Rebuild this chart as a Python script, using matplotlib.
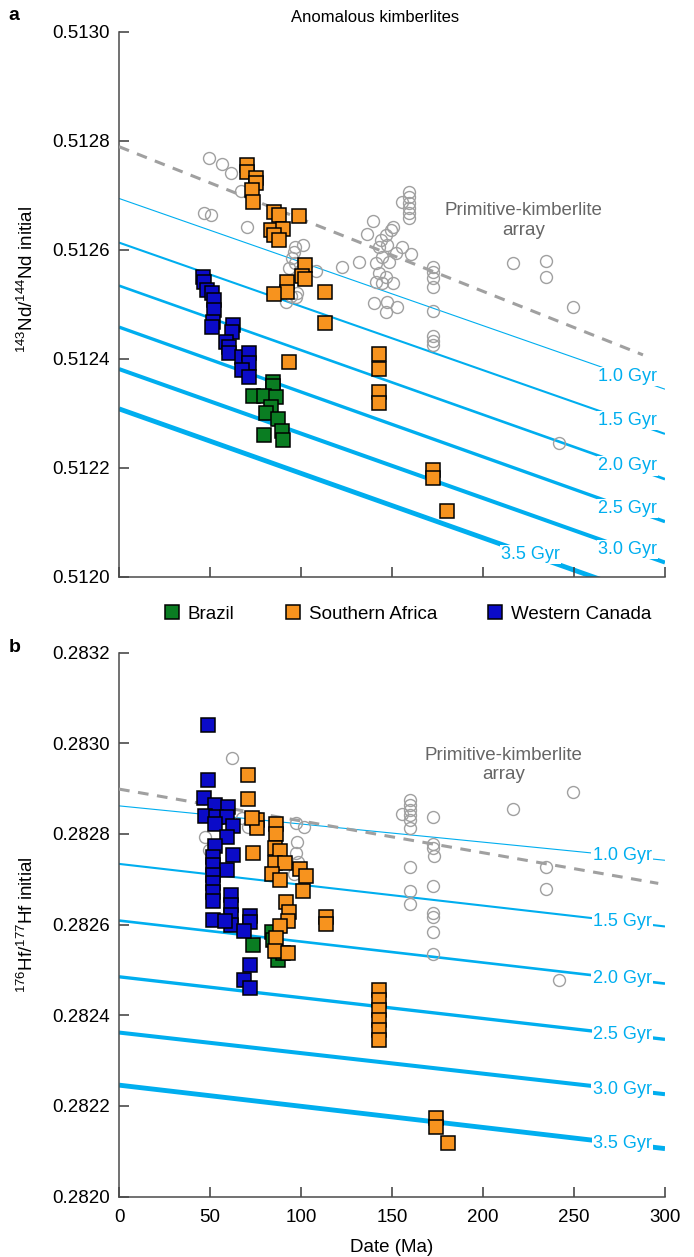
import matplotlib
matplotlib.use("Agg")
import numpy as np
import matplotlib.pyplot as plt
from matplotlib.lines import Line2D

plt.rcParams['font.family'] = ['Liberation Sans', 'DejaVu Sans']
plt.rcParams['mathtext.default'] = 'regular'

# ---------------- panel a : Nd ----------------
canada_nd_age = [46.4, 46.8, 48.6, 51.2, 52.3, 52.3, 51.4, 51.2, 62.4, 62.2, 58.7, 60.5,
                 60.5, 67.7, 71.6, 71.6, 67.7, 71.6]
canada_nd = [0.512550, 0.512541, 0.512526, 0.512521, 0.512508, 0.512489, 0.512468, 0.512458,
             0.512462, 0.512449, 0.512431, 0.512422, 0.512410, 0.512403, 0.512410, 0.512392,
             0.512379, 0.512367]

brazil_nd_age = [84.4, 84.4, 73.4, 79.8, 86.3, 83.5, 80.8, 87.1, 89.6, 79.4, 90.3]
brazil_nd = [0.512358, 0.512349, 0.512332, 0.512332, 0.512330, 0.512312, 0.512300, 0.512289,
             0.512267, 0.512260, 0.512250]

safrica_nd_age = [70.3, 70.3, 75.2, 75.2, 72.8, 73.4, 85.3, 88.1, 99.1, 83.5, 89.9, 85.3,
                  88.1, 102.4, 100.6, 102.4, 92.3, 92.3, 85.3, 113.4, 113.4, 93.2, 142.6,
                  142.6, 142.6, 142.6, 172.3, 172.3, 180.0]
safrica_nd = [0.512755, 0.512743, 0.512731, 0.512722, 0.512710, 0.512688, 0.512670, 0.512664,
              0.512662, 0.512636, 0.512638, 0.512627, 0.512618, 0.512572, 0.512552, 0.512546,
              0.512540, 0.512522, 0.512519, 0.512523, 0.512466, 0.512394, 0.512408, 0.512381,
              0.512339, 0.512318, 0.512196, 0.512181, 0.512121]

primitive_nd_age = [49.5, 56.7, 61.6, 67.1, 46.8, 50.6, 70.4, 96.9, 101.3, 96.3, 95.2, 96.9,
                    93.6, 99.6, 108.4, 98.0, 97.4, 91.9, 94.6, 122.7, 132.1, 136.0, 139.8,
                    144.2, 146.9, 149.7, 150.3, 143.1, 147.5, 152.4, 155.7, 160.6, 141.4,
                    144.7, 148.6, 143.1, 146.9, 141.4, 144.7, 150.3, 140.3, 147.5, 153.0,
                    146.9, 155.7, 159.1, 159.1, 159.1, 159.1, 159.1, 159.1, 172.3, 172.3,
                    172.3, 172.3, 172.3, 172.3, 172.3, 172.3, 216.3, 234.5, 234.5, 249.5,
                    241.6]
primitive_nd = [0.512768, 0.512757, 0.512741, 0.512708, 0.512667, 0.512663, 0.512642, 0.512605,
                0.512608, 0.512596, 0.512585, 0.512576, 0.512567, 0.512560, 0.512560, 0.512521,
                0.512513, 0.512504, 0.512515, 0.512568, 0.512577, 0.512629, 0.512653, 0.512618,
                0.512627, 0.512636, 0.512642, 0.512605, 0.512608, 0.512594, 0.512605, 0.512592,
                0.512575, 0.512586, 0.512577, 0.512557, 0.512550, 0.512540, 0.512539, 0.512539,
                0.512502, 0.512504, 0.512495, 0.512486, 0.512688, 0.512705, 0.512696, 0.512686,
                0.512677, 0.512668, 0.512659, 0.512568, 0.512559, 0.512548, 0.512532, 0.512488,
                0.512442, 0.512433, 0.512426, 0.512575, 0.512579, 0.512550, 0.512495, 0.512245]

# model-age reference lines, values at 0 Ma and 300 Ma
gyr_labels = ['1.0 Gyr', '1.5 Gyr', '2.0 Gyr', '2.5 Gyr', '3.0 Gyr', '3.5 Gyr']
nd_iso_0 = [0.512694, 0.512613, 0.512534, 0.512458, 0.512381, 0.512308]
nd_iso_300 = [0.512344, 0.512262, 0.512179, 0.512101, 0.512026, 0.511953]
nd_array_age = [0, 287.9]
nd_array = [0.512789, 0.512407]

# ---------------- panel b : Hf ----------------
canada_hf_age = [49.1, 48.7, 46.9, 52.7, 59.7, 47.3, 53.3, 59.2, 52.7, 62.8, 59.2, 52.7,
                 62.8, 51.8, 51.8, 59.2, 51.8, 51.8, 51.8, 51.8, 51.8, 61.4, 61.4, 61.4,
                 61.4, 58.2, 72.0, 72.0, 68.7, 72.0, 68.7, 72.0]
canada_hf = [0.283041, 0.282918, 0.282879, 0.282864, 0.282860, 0.282840, 0.282838, 0.282837,
             0.282822, 0.282818, 0.282794, 0.282774, 0.282754, 0.282750, 0.282732, 0.282721,
             0.282710, 0.282691, 0.282673, 0.282653, 0.282610, 0.282666, 0.282644, 0.282621,
             0.282599, 0.282607, 0.282619, 0.282605, 0.282587, 0.282511, 0.282478, 0.282460]

brazil_hf_age = [73.8, 84.1, 84.8, 87.5, 89.9]
brazil_hf = [0.282556, 0.282584, 0.282566, 0.282522, 0.282537]

safrica_hf_age = [70.9, 70.9, 75.7, 75.7, 72.9, 86.1, 86.1, 73.5, 85.7, 88.5, 85.7, 91.2,
                  83.9, 88.5, 99.5, 102.7, 100.9, 91.8, 93.6, 92.7, 88.5, 86.1, 85.7, 92.7,
                  113.7, 113.7, 142.7, 142.7, 142.7, 142.7, 142.7, 142.7, 173.9, 173.9, 181.0]
safrica_hf = [0.282930, 0.282877, 0.282831, 0.282813, 0.282835, 0.282822, 0.282800, 0.282758,
              0.282769, 0.282763, 0.282736, 0.282736, 0.282712, 0.282699, 0.282722, 0.282708,
              0.282674, 0.282651, 0.282629, 0.282609, 0.282596, 0.282570, 0.282542, 0.282538,
              0.282616, 0.282601, 0.282456, 0.282434, 0.282412, 0.282390, 0.282368, 0.282346,
              0.282173, 0.282154, 0.282119]

primitive_hf_age = [62.1, 47.3, 49.5, 67.6, 70.9, 97.3, 101.6, 97.8, 97.3, 98.4, 96.2,
                    159.9, 159.9, 159.9, 159.9, 159.9, 159.9, 155.5, 172.5, 172.5, 172.5,
                    173.1, 159.9, 172.5, 159.9, 159.9, 172.5, 172.5, 172.5, 172.5, 216.5,
                    249.5, 234.6, 234.6, 241.8]
primitive_hf = [0.282968, 0.282794, 0.282765, 0.282835, 0.282816, 0.282824, 0.282816, 0.282783,
                0.282758, 0.282738, 0.282712, 0.282875, 0.282864, 0.282853, 0.282842, 0.282831,
                0.282813, 0.282844, 0.282838, 0.282778, 0.282769, 0.282752, 0.282727, 0.282685,
                0.282674, 0.282646, 0.282626, 0.282617, 0.282584, 0.282535, 0.282855, 0.282893,
                0.282727, 0.282679, 0.282478]

hf_iso_0 = [0.282862, 0.282734, 0.282609, 0.282485, 0.282362, 0.282246]
hf_iso_300 = [0.282742, 0.282596, 0.282470, 0.282347, 0.282226, 0.282106]
hf_array_age = [0, 296.3]
hf_array = [0.282899, 0.282691]

# ---------------- style ----------------
c_iso = '#00AEEF'
c_grey = '#A0A0A0'
c_brazil = '#0A7D22'
c_safrica = '#F7931E'
c_canada = '#0B0BC8'
iso_widths = [0.8, 1.5, 1.9, 2.4, 2.9, 3.5]
fs = 13.5

fig = plt.figure(figsize=(6.94, 12.57), dpi=100)
ax1 = fig.add_axes([0.1715, 0.5412, 0.7867, 0.4336])
ax2 = fig.add_axes([0.1715, 0.0480, 0.7867, 0.4328])


def draw_panel(ax, iso0, iso300, label_ages, arr_age, arr_val,
               prim_age, prim, groups, ylim, yticks):
    for i in range(len(gyr_labels)):
        ax.plot([0, 300], [iso0[i], iso300[i]], color=c_iso, lw=iso_widths[i],
                zorder=1, solid_capstyle='butt')
        xa = label_ages[i]
        ya = iso0[i] + (iso300[i] - iso0[i]) * xa / 300.0
        ax.text(xa, ya, gyr_labels[i], color=c_iso, fontsize=13, ha='center', va='center',
                zorder=2, bbox=dict(boxstyle='square,pad=0.06', fc='white', ec='none'))
    ax.plot(arr_age, arr_val, color=c_grey, lw=2.2, ls=(0, (3.5, 2.8)), zorder=3)
    ax.plot(prim_age, prim, ls='none', marker='o', ms=8.6, mfc='none', mec=c_grey,
            mew=1.0, zorder=4)
    for age, val, col in groups:
        ax.plot(age, val, ls='none', marker='s', ms=9.6, mfc=col, mec='black',
                mew=1.1, zorder=5)
    ax.set_xlim(0, 300)
    ax.set_ylim(*ylim)
    ax.set_xticks(range(0, 301, 50))
    ax.set_yticks(yticks)
    ax.set_yticklabels(['%.4f' % v for v in yticks])
    for s in ['top', 'right']:
        ax.spines[s].set_visible(False)
    for s in ['left', 'bottom']:
        ax.spines[s].set_color('#4a4a4a')
        ax.spines[s].set_linewidth(1.1)
    ax.tick_params(direction='in', length=7, width=1.1, color='#3a3a3a',
                   labelsize=fs)
    ax.tick_params(axis='y', pad=6.5)
    ax.tick_params(axis='x', pad=9)


draw_panel(ax1, nd_iso_0, nd_iso_300, [279.6, 279.6, 279.6, 279.6, 279.6, 226.0],
           nd_array_age, nd_array, primitive_nd_age, primitive_nd,
           [(brazil_nd_age, brazil_nd, c_brazil),
            (canada_nd_age, canada_nd, c_canada),
            (safrica_nd_age, safrica_nd, c_safrica)],
           (0.5120, 0.5130), [0.5120 + 0.0002 * i for i in range(6)])
ax1.tick_params(labelbottom=False)
ax1.text(222.4, 0.512654, 'Primitive-kimberlite\narray', color='#666666', fontsize=fs,
         ha='center', va='center', linespacing=1.2)
ax1.set_ylabel('$^{143}$Nd/$^{144}$Nd initial', fontsize=fs)
ax1.yaxis.set_label_coords(-0.15, 0.546)

draw_panel(ax2, hf_iso_0, hf_iso_300, [276.4] * 6,
           hf_array_age, hf_array, primitive_hf_age, primitive_hf,
           [(brazil_hf_age, brazil_hf, c_brazil),
            (canada_hf_age, canada_hf, c_canada),
            (safrica_hf_age, safrica_hf, c_safrica)],
           (0.2820, 0.2832), [0.2820 + 0.0002 * i for i in range(7)])
ax2.text(211.5, 0.282952, 'Primitive-kimberlite\narray', color='#666666', fontsize=fs,
         ha='center', va='center', linespacing=1.2)
ax2.set_ylabel('$^{176}$Hf/$^{177}$Hf initial', fontsize=fs)
ax2.yaxis.set_label_coords(-0.15, 0.5)
ax2.set_xlabel('Date (Ma)', fontsize=fs, labelpad=9)

fig.text(375 / 694, 1 - 18 / 1257, 'Anomalous kimberlites', fontsize=12,
         ha='center', va='center')
fig.text(0.012, 1 - 15 / 1257, 'a', fontsize=14, fontweight='bold', va='center')
fig.text(0.012, 1 - 648 / 1257, 'b', fontsize=14, fontweight='bold', va='center')

handles = [Line2D([], [], ls='none', marker='s', ms=9.6, mfc=c, mec='black', mew=1.1)
           for c in [c_brazil, c_safrica, c_canada]]
fig.legend(handles, ['Brazil', 'Southern Africa', 'Western Canada'], loc='center',
           bbox_to_anchor=(0.588, 1 - 614 / 1257), ncol=3, frameon=False, fontsize=fs,
           handlelength=0.8, handletextpad=0.45, columnspacing=2.7)

fig.savefig('out.png', dpi=100)
